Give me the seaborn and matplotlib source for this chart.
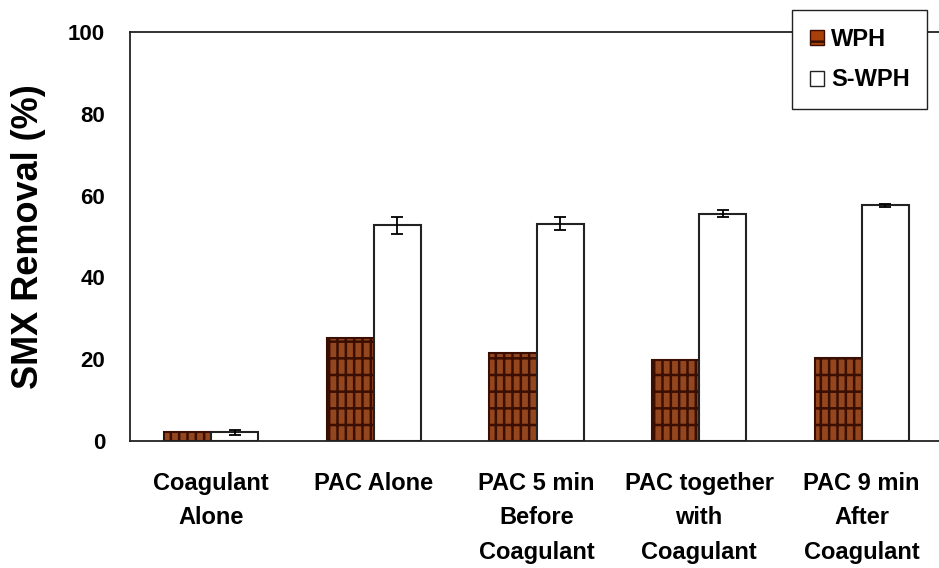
import pandas as pd
import seaborn as sns
import matplotlib.pyplot as plt
from matplotlib.patches import Patch

# data
categories = ["Coagulant\nAlone", "PAC Alone", "PAC 5 min\nBefore\nCoagulant",
              "PAC together\nwith\nCoagulant", "PAC 9 min\nAfter\nCoagulant"]
series = ["WPH", "S-WPH"]
wph = [2.3, 25.3, 21.6, 19.9, 20.4]
swph = [2.1, 52.7, 53.1, 55.6, 57.6]
swph_err = [0.6, 2.0, 1.6, 0.9, 0.3]

df = pd.DataFrame({
    "cat": categories * 2,
    "series": ["WPH"] * 5 + ["S-WPH"] * 5,
    "val": wph + swph,
})

sns.set_style("white")
plt.rcParams["font.family"] = ["Liberation Sans", "DejaVu Sans"]
plt.rcParams["font.weight"] = "bold"
plt.rcParams["hatch.linewidth"] = 1.8
for k in ["text.color", "axes.labelcolor", "xtick.color", "ytick.color"]:
    plt.rcParams[k] = "black"

fig = plt.figure(figsize=(9.39, 5.68), dpi=100)
ax = fig.add_axes([130 / 939, 127 / 568, 813 / 939, 409 / 568])

sns.barplot(data=df, x="cat", y="val", hue="series", order=categories,
            hue_order=series, palette={"WPH": "#a8400a", "S-WPH": "white"},
            width=0.58, linewidth=1.5, edgecolor="#222222", legend=False, ax=ax)

# texture on WPH bars
for bar in ax.containers[0]:
    bar.set_hatch("||-")
    bar.set_edgecolor("#3a0e00")

# error bars on S-WPH
xs = [b.get_x() + b.get_width() / 2 for b in ax.containers[1]]
ax.errorbar(xs, swph, yerr=swph_err, fmt="none", ecolor="black",
            elinewidth=1.3, capsize=4, capthick=1.3)

ax.set_xlim(-0.5, 4.5)
ax.set_ylim(0, 100)
ax.set_yticks([0, 20, 40, 60, 80, 100])
ax.set_xlabel("")
ax.set_ylabel("SMX Removal (%)", fontsize=26, fontweight="bold", labelpad=16)

ax.tick_params(axis="y", direction="in", length=6, width=1.2, labelsize=16, pad=18)
ax.tick_params(axis="x", which="major", length=0, labelsize=17, pad=22)
ax.set_xticks([0.5, 1.5, 2.5, 3.5], minor=True)
ax.tick_params(axis="x", which="minor", direction="in", length=6, width=1.2)
for lab in ax.get_xticklabels():
    lab.set_fontweight("bold")
    lab.set_linespacing(1.65)
for lab in ax.get_yticklabels():
    lab.set_fontweight("bold")

for s in ["left", "bottom", "top"]:
    ax.spines[s].set_visible(True)
    ax.spines[s].set_color("#222222")
    ax.spines[s].set_linewidth(1.3)
ax.spines["right"].set_visible(False)

handles = [Patch(facecolor="#a8400a", edgecolor="#3a0e00", hatch="-", label="WPH"),
           Patch(facecolor="white", edgecolor="#222222", label="S-WPH")]
leg = ax.legend(handles=handles, loc="upper left", bbox_to_anchor=(792 / 939, 558 / 568),
                bbox_transform=fig.transFigure, frameon=True, fancybox=False,
                fontsize=17, handlelength=0.6, handleheight=0.6, handletextpad=0.3,
                borderpad=0.75, labelspacing=0.75, borderaxespad=0)
leg.get_frame().set_edgecolor("#222222")
leg.get_frame().set_linewidth(1.0)
leg.get_frame().set_alpha(1)
for t in leg.get_texts():
    t.set_fontweight("bold")

plt.savefig("out.png", dpi=100)
